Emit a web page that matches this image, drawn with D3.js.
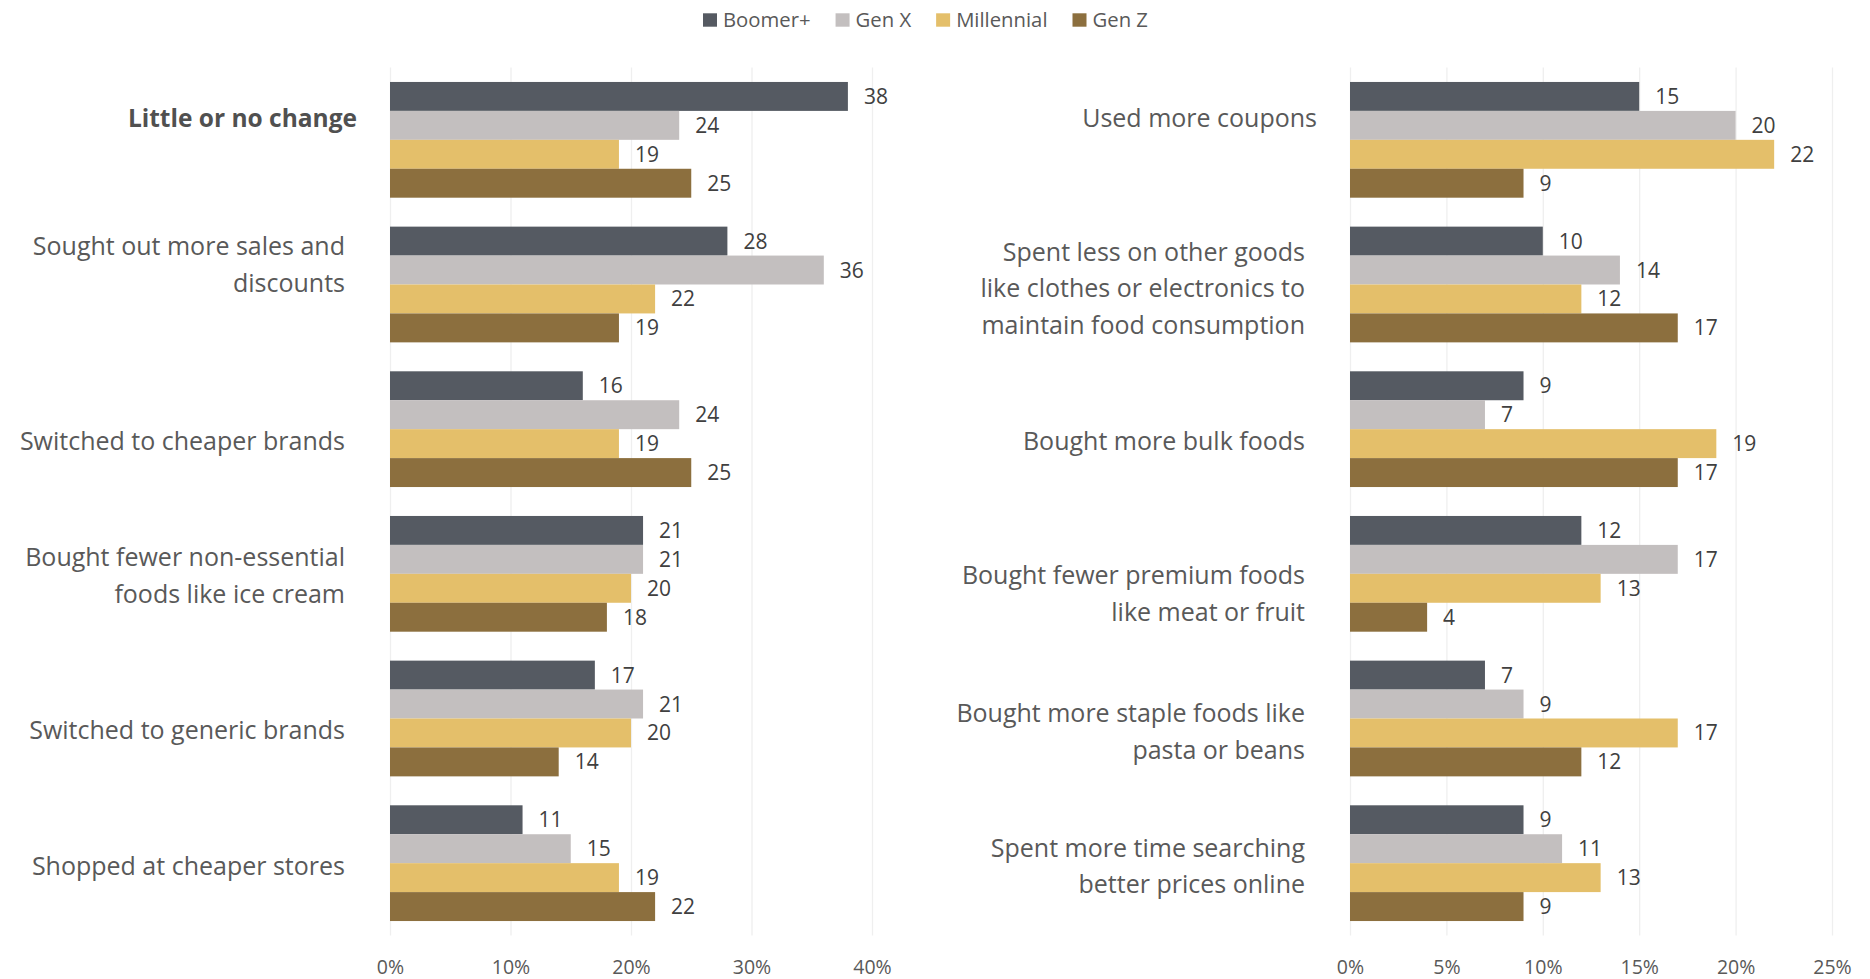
<!DOCTYPE html>
<html>
<head>
<meta charset="utf-8">
<script src="https://cdn.jsdelivr.net/npm/d3@7"></script>
<style>
  body { margin: 0; background: #ffffff; }
  svg { display: block; font-family: "Open Sans", sans-serif; }
</style>
</head>
<body>
<svg id="chart" width="1870" height="979"></svg>
<script>
// ---- data ----------------------------------------------------------------
const seriesNames = ["Boomer+", "Gen X", "Millennial", "Gen Z"];

const leftCategories = [
  "Little or no change",
  "Sought out more sales and\ndiscounts",
  "Switched to cheaper brands",
  "Bought fewer non-essential\nfoods like ice cream",
  "Switched to generic brands",
  "Shopped at cheaper stores"
];
const leftBoomer     = [38, 28, 16, 21, 17, 11];
const leftGenX       = [24, 36, 24, 21, 21, 15];
const leftMillennial = [19, 22, 19, 20, 20, 19];
const leftGenZ       = [25, 19, 25, 18, 14, 22];
const leftTicks      = [0, 10, 20, 30, 40];

const rightCategories = [
  "Used more coupons",
  "Spent less on other goods\nlike clothes or electronics to\nmaintain food consumption",
  "Bought more bulk foods",
  "Bought fewer premium foods\nlike meat or fruit",
  "Bought more staple foods like\npasta or beans",
  "Spent more time searching\nbetter prices online"
];
const rightBoomer     = [15, 10, 9, 12, 7, 9];
const rightGenX       = [20, 14, 7, 17, 9, 11];
const rightMillennial = [22, 12, 19, 13, 17, 13];
const rightGenZ       = [9, 17, 17, 4, 12, 9];
const rightTicks      = [0, 5, 10, 15, 20, 25];

// ---- styling / layout ----------------------------------------------------
const seriesColors = ["#555a62", "#c3bfbf", "#e4bf6a", "#8c6f3e"];
const labelColor = "#595959";
const valueColor = "#404040";
const gridColor = "#efefef";

const plotTop = 67.5, plotBottom = 935.5;
const catFont = 25, catLine = 36.7;
const valueFont = 21, tickFont = 19.5;

// vertical nudges of the category text blocks relative to their band centre
const leftLabelShift  = [-22, -20, 12, 2, 12, 3];
const rightLabelShift = [-22, 4, 12, 20, 13, 3];

const svg = d3.select("#chart");

function drawPanel(cfg) {
  const x = d3.scaleLinear().domain(cfg.domain).range(cfg.xRange);
  const y = d3.scaleBand()
    .domain(d3.range(cfg.categories.length))
    .range([plotTop, plotBottom])
    .paddingInner(0.2)
    .paddingOuter(0.1);
  const ySub = d3.scaleBand()
    .domain(d3.range(seriesNames.length))
    .range([0, y.bandwidth()]);

  const g = svg.append("g");

  // gridlines + tick labels
  const axis = d3.axisBottom(x)
    .tickValues(cfg.ticks)
    .tickSize(-(plotBottom - plotTop))
    .tickPadding(24.5)
    .tickFormat(d => d + "%");
  const ax = g.append("g")
    .attr("transform", `translate(0,${plotBottom})`)
    .call(axis);
  ax.select(".domain").remove();
  ax.selectAll(".tick line").attr("stroke", gridColor).attr("stroke-width", 1.3);
  ax.selectAll(".tick text")
    .attr("fill", labelColor)
    .style("font-family", "'Open Sans', sans-serif")
    .style("font-size", tickFont + "px");

  // bars and value labels
  const rows = cfg.categories.map((c, i) => ({
    i,
    values: cfg.series.map(s => s[i])
  }));
  const grp = g.selectAll("g.cat").data(rows).join("g")
    .attr("class", "cat")
    .attr("transform", d => `translate(0,${y(d.i)})`);

  grp.selectAll("rect")
    .data(d => d.values.map((v, k) => ({ v, k })))
    .join("rect")
    .attr("x", x(0))
    .attr("y", d => ySub(d.k))
    .attr("width", d => x(d.v) - x(0))
    .attr("height", ySub.bandwidth())
    .attr("fill", d => seriesColors[d.k]);

  grp.selectAll("text.val")
    .data(d => d.values.map((v, k) => ({ v, k })))
    .join("text")
    .attr("class", "val")
    .attr("x", d => x(d.v) + 16)
    .attr("y", d => ySub(d.k) + ySub.bandwidth() / 2 + valueFont * 0.357)
    .attr("fill", valueColor)
    .style("font-size", valueFont + "px")
    .text(d => d.v);

  // category labels (right-aligned, wrapped)
  cfg.categories.forEach((label, i) => {
    const lines = label.split("\n");
    const centre = y(i) + y.bandwidth() / 2 + cfg.shift[i];
    const right = x(0) - (i === 0 ? 33 : 45);
    const bold = i === 0 && cfg.boldFirst;
    const t = g.append("text")
      .attr("text-anchor", "end")
      .attr("fill", bold ? "#505050" : labelColor)
      .style("font-size", (bold ? 24.5 : catFont) + "px")
      .style("font-weight", bold ? 700 : 400);
    lines.forEach((ln, k) => {
      t.append("tspan")
        .attr("x", right)
        .attr("y", centre + (k - (lines.length - 1) / 2) * catLine + catFont * 0.357)
        .text(ln);
    });
  });
}

drawPanel({
  categories: leftCategories,
  series: [leftBoomer, leftGenX, leftMillennial, leftGenZ],
  domain: [0, 40],
  ticks: leftTicks,
  xRange: [390, 872],
  shift: leftLabelShift,
  boldFirst: true
});

drawPanel({
  categories: rightCategories,
  series: [rightBoomer, rightGenX, rightMillennial, rightGenZ],
  domain: [0, 25],
  ticks: rightTicks,
  xRange: [1350, 1832],
  shift: rightLabelShift,
  boldFirst: false
});

// ---- legend --------------------------------------------------------------
const legend = svg.append("g").attr("transform", "translate(703,0)");
let lx = 0;
seriesNames.forEach((name, k) => {
  const item = legend.append("g").attr("transform", `translate(${lx},0)`);
  item.append("rect")
    .attr("x", 0).attr("y", 13.3)
    .attr("width", 14).attr("height", 13.4)
    .attr("fill", seriesColors[k]);
  const t = item.append("text")
    .attr("x", 20).attr("y", 26.7)
    .attr("fill", labelColor)
    .style("font-size", "20.3px")
    .text(name);
  lx += 20 + t.node().getComputedTextLength() + 25;
});
</script>
</body>
</html>
